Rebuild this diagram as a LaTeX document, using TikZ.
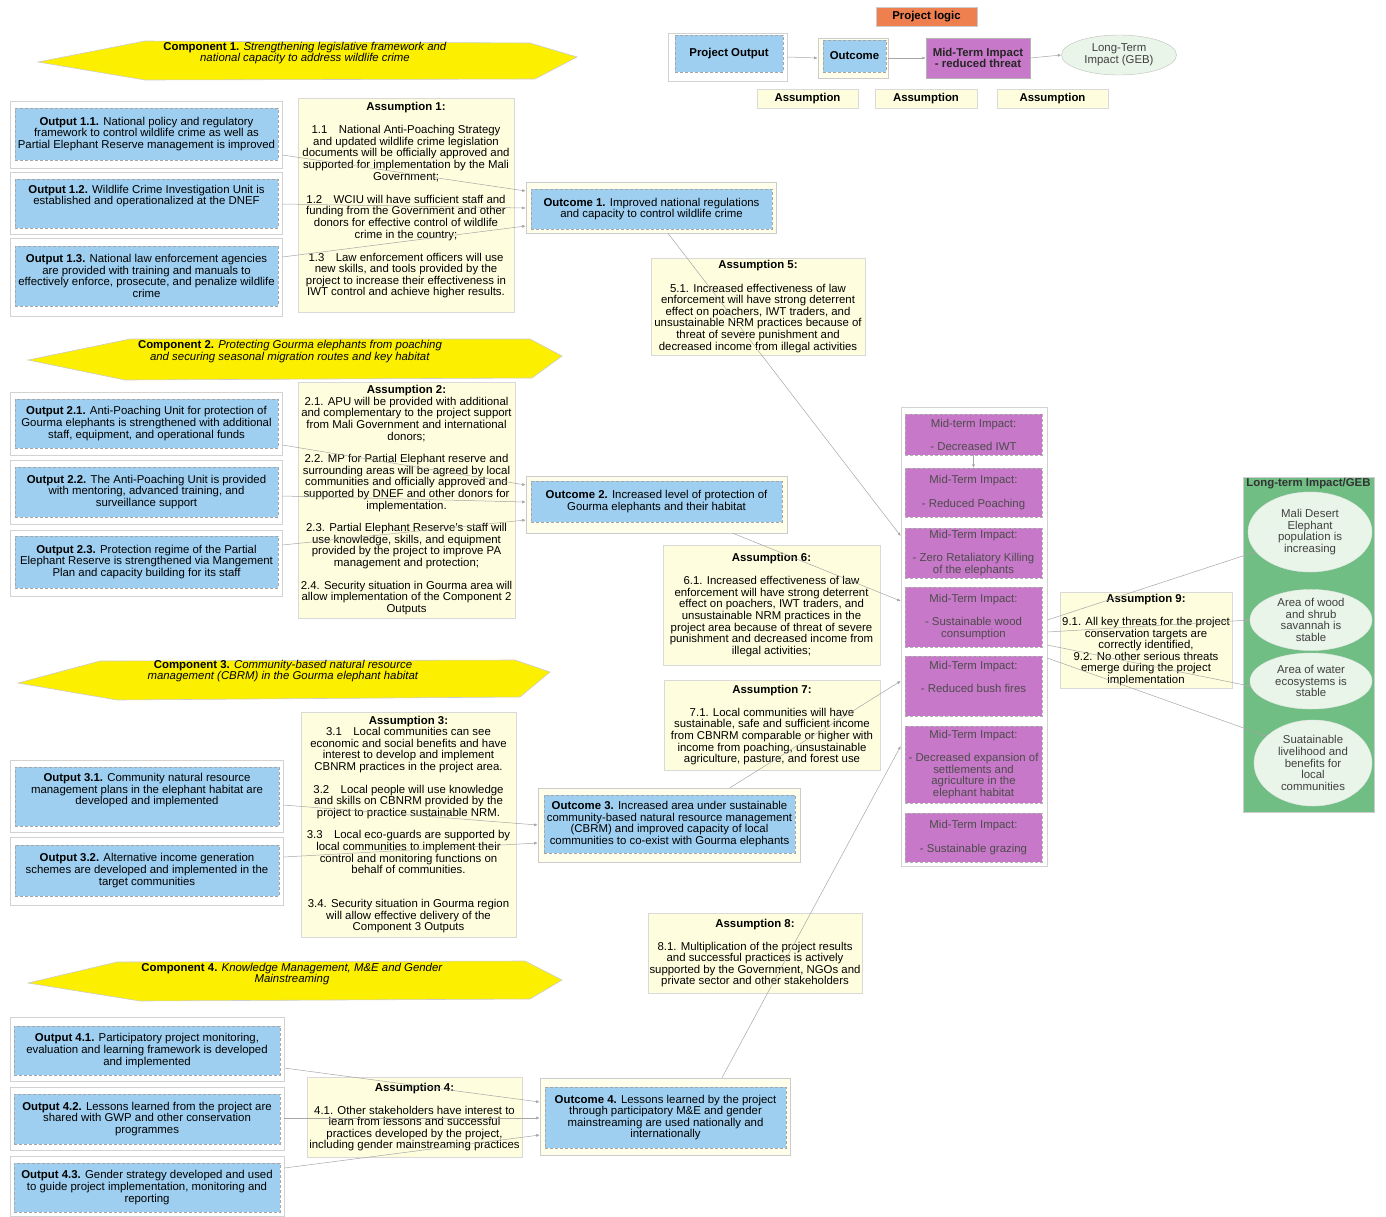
\documentclass[tikz,border=0pt]{standalone}
\usepackage{fontspec}
\setmainfont{Liberation Sans}
\usetikzlibrary{shapes.geometric,arrows.meta}

\definecolor{outblue}{RGB}{158,207,240}
\definecolor{assyellow}{RGB}{254,254,222}
\definecolor{compyellow}{RGB}{252,240,0}
\definecolor{midpurple}{RGB}{200,120,200}
\definecolor{ltgreen}{RGB}{112,190,132}
\definecolor{ltpale}{RGB}{232,245,232}
\definecolor{logicorange}{RGB}{238,128,80}

\begin{document}
\begin{tikzpicture}[x=1pt,y=-1pt,
    every node/.style={font=\fontsize{11.4}{11.6}\selectfont,align=center,inner sep=1pt},
    out_frame/.style={rectangle,draw=gray!35,fill=white,line width=0.6pt},
    out_box/.style={rectangle,draw=gray!70,densely dashed,fill=outblue,line width=0.5pt},
    outc_frame/.style={rectangle,draw=gray!40,fill=assyellow!60,line width=0.6pt},
    assum_node/.style={rectangle,draw=gray!30,fill=assyellow,line width=0.6pt},
    mid_node/.style={rectangle,draw=gray!60,densely dashed,fill=midpurple,text=black!70,line width=0.5pt,minimum width=137pt},
    lt_node/.style={ellipse,draw=white!80!gray,fill=ltpale,inner sep=0pt,text=black!75},
    comp_shape/.style={draw=gray!40,fill=compyellow,line width=0.6pt},
    link/.style={draw=gray!70,line width=0.5pt,-{Latex[length=3.5pt,width=3pt]}}]
\useasboundingbox (0,0) rectangle (1386,1216);

% legend
\node[rectangle,fill=logicorange,draw=gray!40,minimum width=101pt,minimum height=19pt] (logic) at (926.5,16.5) {\textbf{Project logic}};
\node[out_frame,minimum width=119pt,minimum height=48pt] (lgpf) at (727.5,57) {};
\node[out_box,minimum width=108pt,minimum height=37pt] (lgp) at (729,53.5) {\textbf{Project Output}};
\node[outc_frame,minimum width=70pt,minimum height=40pt] (lgof) at (853,58) {};
\node[out_box,minimum width=63pt,minimum height=32pt] (lgo) at (854.5,56) {\textbf{Outcome}};
\node[mid_node,minimum width=104pt,minimum height=40pt,text=black!85,solid] (lgm) at (978,58) {\textbf{Mid-Term Impact}\\\textbf{- reduced threat}};
\node[lt_node,draw=gray!50,minimum width=115pt,minimum height=40pt] (lgl) at (1119,55) {Long-Term\\Impact (GEB)};
\node[assum_node,minimum width=101pt,minimum height=19pt] (lga1) at (807.5,98.5) {\textbf{Assumption}};
\node[assum_node,minimum width=102pt,minimum height=19pt] (lga2) at (926,98.5) {\textbf{Assumption}};
\node[assum_node,minimum width=111pt,minimum height=19pt] (lga3) at (1052.5,98.5) {\textbf{Assumption}};

% component 1
\draw[comp_shape] (38,62) -- (145,41) -- (530,43) -- (577,57) -- (535,79) -- (145,80) -- cycle;
\node (comp1) at (305,53) {\textbf{Component 1.} \textit{Strengthening legislative framework and}\\\textit{national capacity to address wildlife crime}};
\node[out_frame,minimum width=272pt,minimum height=67pt] (o11f) at (146,134.5) {};
\node[out_box,minimum width=263pt,minimum height=52pt] (o11) at (146.5,134) {\textbf{Output 1.1.} National policy and regulatory\\framework to control wildlife crime as well as\\Partial Elephant Reserve management is improved};
\node[out_frame,minimum width=272pt,minimum height=62pt] (o12f) at (146,203) {};
\node[out_box,minimum width=263pt,minimum height=49pt] (o12) at (146.5,203.5) {\textbf{Output 1.2.} Wildlife Crime Investigation Unit is\\established and operationalized at the DNEF\\[6pt]~};
\node[out_frame,minimum width=272pt,minimum height=78pt] (o13f) at (146,277) {};
\node[out_box,minimum width=263pt,minimum height=60pt] (o13) at (146.5,276) {\textbf{Output 1.3.} National law enforcement agencies\\are provided with training and manuals to\\effectively enforce, prosecute, and penalize wildlife\\crime};
\node[assum_node,minimum width=216pt,minimum height=214pt] (a1) at (406,205) {\textbf{Assumption 1:}\\[11.5pt]
    1.1\quad National Anti-Poaching Strategy\\and updated wildlife crime legislation\\documents will be officially approved and\\supported for implementation by the Mali\\Government;\\[11.5pt]
    1.2\quad WCIU will have sufficient staff and\\funding from the Government and other\\donors for effective control of wildlife\\crime in the country;\\[11.5pt]
    1.3\quad Law enforcement officers will use\\new skills, and tools provided by the\\project to increase their effectiveness in\\IWT control and achieve higher results.\\~};
\node[outc_frame,minimum width=250pt,minimum height=51pt] (oc1f) at (651,207.5) {};
\node[out_box,minimum width=241pt,minimum height=40pt] (oc1) at (651.5,209) {\textbf{Outcome 1.} Improved national regulations\\and capacity to control wildlife crime};
\node[assum_node,minimum width=214pt,minimum height=97pt] (a5) at (758,306.5) {\textbf{Assumption 5:}\\[11.5pt]
    5.1. Increased effectiveness of law\\enforcement will have strong deterrent\\effect on poachers, IWT traders, and\\unsustainable NRM practices because of\\threat of severe punishment and\\decreased income from illegal activities};

% component 2
\draw[comp_shape] (28,360) -- (130,339) -- (530,339) -- (562,356) -- (532,378) -- (125,380) -- cycle;
\node (comp2) at (290,351.5) {\textbf{Component 2.} \textit{Protecting Gourma elephants from poaching}\\\textit{and securing seasonal migration routes and key habitat}};
\node[out_frame,minimum width=272pt,minimum height=63pt] (o21f) at (146,423.5) {};
\node[out_box,minimum width=263pt,minimum height=49pt] (o21) at (146.5,423.5) {\textbf{Output 2.1.} Anti-Poaching Unit for protection of\\Gourma elephants is strengthened with additional\\staff, equipment, and operational funds};
\node[out_frame,minimum width=272pt,minimum height=64pt] (o22f) at (146,492) {};
\node[out_box,minimum width=263pt,minimum height=50pt] (o22) at (146.5,492) {\textbf{Output 2.2.} The Anti-Poaching Unit is provided\\with mentoring, advanced training, and\\surveillance support};
\node[out_frame,minimum width=272pt,minimum height=66pt] (o23f) at (146,563) {};
\node[out_box,minimum width=263pt,minimum height=52pt] (o23) at (146.5,562) {\textbf{Output 2.3.} Protection regime of the Partial\\Elephant Reserve is strengthened via Mangement\\Plan and capacity building for its staff};
\node[assum_node,minimum width=217pt,minimum height=236pt] (a2) at (406.5,500) {\textbf{Assumption 2:}\\
    2.1. APU will be provided with additional\\and complementary to the project support\\from Mali Government and international\\donors;\\[11pt]
    2.2. MP for Partial Elephant reserve and\\surrounding areas will be agreed by local\\communities and officially approved and\\supported by DNEF and other donors for\\implementation.\\[11pt]
    2.3. Partial Elephant Reserve's staff will\\use knowledge, skills, and equipment\\provided by the project to improve PA\\management and protection;\\[11pt]
    2.4. Security situation in Gourma area will\\allow implementation of the Component 2\\Outputs};
\node[outc_frame,minimum width=261pt,minimum height=57pt] (oc2f) at (656.5,504.5) {};
\node[out_box,minimum width=251pt,minimum height=41pt] (oc2) at (656.5,501.5) {\textbf{Outcome 2.} Increased level of protection of\\Gourma elephants and their habitat};
\node[assum_node,minimum width=217pt,minimum height=120pt] (a6) at (771.5,605) {\textbf{Assumption 6:}\\[11.5pt]
    6.1. Increased effectiveness of law\\enforcement will have strong deterrent\\effect on poachers, IWT traders, and\\unsustainable NRM practices in the\\project area because of threat of severe\\punishment and decreased income from\\illegal activities;};

% component 3
\draw[comp_shape] (18,683) -- (100,661) -- (515,660) -- (550,672) -- (520,697) -- (117,700) -- cycle;
\node (comp3) at (283,671) {\textbf{Component 3.} \textit{Community-based natural resource}\\\textit{management (CBRM) in the Gourma elephant habitat}};
\node[out_frame,minimum width=273pt,minimum height=72pt] (o31f) at (146.5,796) {};
\node[out_box,minimum width=264pt,minimum height=59pt] (o31) at (147,796.5) {\textbf{Output 3.1.} Community natural resource\\management plans in the elephant habitat are\\developed and implemented\\[3pt]~};
\node[out_frame,minimum width=273pt,minimum height=68pt] (o32f) at (146.5,871) {};
\node[out_box,minimum width=264pt,minimum height=51pt] (o32) at (147,870.5) {\textbf{Output 3.2.} Alternative income generation\\schemes are developed and implemented in the\\target communities};
\node[assum_node,minimum width=215pt,minimum height=225pt] (a3) at (408.5,824.5) {\textbf{Assumption 3:}\\
    3.1\quad Local communities can see\\economic and social benefits and have\\interest to develop and implement\\CBNRM practices in the project area.\\[11pt]
    3.2\quad Local people will use knowledge\\and skills on CBNRM provided by the\\project to practice sustainable NRM.\\[11pt]
    3.3\quad Local eco-guards are supported by\\local communities to implement their\\control and monitoring functions on\\behalf of communities.\\[22.5pt]
    3.4. Security situation in Gourma region\\will allow effective delivery of the\\Component 3 Outputs};
\node[assum_node,minimum width=216pt,minimum height=90pt] (a7) at (772,725) {\textbf{Assumption 7:}\\[11.5pt]
    7.1. Local communities will have\\sustainable, safe and sufficient income\\from CBNRM comparable or higher with\\income from poaching, unsustainable\\agriculture, pasture, and forest use};
\node[outc_frame,minimum width=262pt,minimum height=74pt] (oc3f) at (669,825) {};
\node[out_box,minimum width=251pt,minimum height=58pt] (oc3) at (669.5,824) {\textbf{Outcome 3.} Increased area under sustainable\\community-based natural resource management\\(CBRM) and improved capacity of local\\communities to co-exist with Gourma elephants};
\node[assum_node,minimum width=214pt,minimum height=80pt] (a8) at (755,953) {\textbf{Assumption 8:}\\[11.5pt]
    8.1. Multiplication of the project results\\and successful practices is actively\\supported by the Government, NGOs and\\private sector and other stakeholders};

% component 4
\draw[comp_shape] (28,983) -- (117,962) -- (525,961) -- (562,980) -- (530,999) -- (140,1001) -- cycle;
\node (comp4) at (292,974) {\textbf{Component 4.} \textit{Knowledge Management, M\&E and Gender}\\\textit{Mainstreaming}};
\node[out_frame,minimum width=274pt,minimum height=64pt] (o41f) at (147,1049) {};
\node[out_box,minimum width=266pt,minimum height=49pt] (o41) at (147,1050.5) {\textbf{Output 4.1.} Participatory project monitoring,\\evaluation and learning framework is developed\\and implemented};
\node[out_frame,minimum width=274pt,minimum height=63pt] (o42f) at (147,1118.5) {};
\node[out_box,minimum width=266pt,minimum height=50pt] (o42) at (147,1119) {\textbf{Output 4.2.} Lessons learned from the project are\\shared with GWP and other conservation\\programmes};
\node[out_frame,minimum width=274pt,minimum height=60pt] (o43f) at (147,1186) {};
\node[out_box,minimum width=266pt,minimum height=49pt] (o43) at (147,1187.5) {\textbf{Output 4.3.} Gender strategy developed and used\\to guide project implementation, monitoring and\\reporting};
\node[assum_node,minimum width=215pt,minimum height=80pt] (a4) at (414.5,1117) {\textbf{Assumption 4:}\\[11.5pt]
    4.1. Other stakeholders have interest to\\learn from lessons and successful\\practices developed by the project,\\including gender mainstreaming practices};
\node[outc_frame,minimum width=250pt,minimum height=77pt] (oc4f) at (665,1116.5) {};
\node[out_box,minimum width=241pt,minimum height=61pt] (oc4) at (665.5,1117.5) {\textbf{Outcome 4.} Lessons learned by the project\\through participatory M\&E and gender\\mainstreaming are used nationally and\\internationally};

% mid-term impacts
\node[out_frame,minimum width=146pt,minimum height=459pt] (midf) at (974,636.5) {};
\node[mid_node,minimum height=41pt] (m1) at (973.5,434.5) {Mid-term Impact:\\[11.5pt]- Decreased IWT};
\node[mid_node,minimum height=49pt] (m2) at (973.5,492.5) {Mid-Term Impact:\\[11.5pt]- Reduced Poaching};
\node[mid_node,minimum height=50pt] (m3) at (973.5,553) {Mid-Term Impact:\\[11.5pt]- Zero Retaliatory Killing\\of the elephants};
\node[mid_node,minimum height=60pt] (m4) at (973.5,617) {Mid-Term Impact:\\[11.5pt]- Sustainable wood\\consumption};
\node[mid_node,minimum height=60pt] (m5) at (973.5,686) {Mid-Term Impact:\\[11.5pt]- Reduced bush fires\\[6pt]~};
\node[mid_node,minimum height=77pt] (m6) at (973.5,764.5) {Mid-Term Impact:\\[11.5pt]- Decreased expansion of\\settlements and\\agriculture in the\\elephant habitat};
\node[mid_node,minimum height=49pt] (m7) at (973.5,837.5) {Mid-Term Impact:\\[11.5pt]- Sustainable grazing};

% long-term impacts
\node[rectangle,draw=gray!40,fill=ltgreen,minimum width=131pt,minimum height=335pt] (ltf) at (1308.5,644.5) {};
\node[font=\fontsize{11.4}{11.6}\selectfont\bfseries,text=black!80] (ltt) at (1308.5,484) {Long-term Impact/GEB};
\node[lt_node,minimum width=124pt,minimum height=80pt] (e1) at (1310,532) {Mali Desert\\Elephant\\population is\\increasing};
\node[lt_node,minimum width=122pt,minimum height=58pt] (e2) at (1311,620) {Area of wood\\and shrub\\savannah is\\stable};
\node[lt_node,minimum width=122pt,minimum height=56pt] (e3) at (1311,681) {Area of water\\ecosystems is\\stable};
\node[lt_node,minimum width=118pt,minimum height=86pt] (e4) at (1313,763) {Suatainable\\livelihood and\\benefits for\\local\\communities};
\node[assum_node,minimum width=172pt,minimum height=96pt] (a9) at (1146,640) {\textbf{Assumption 9:}\\[11.5pt]
    9.1. All key threats for the project\\conservation targets are\\correctly identified,\\9.2. No other serious threats\\emerge during the project\\implementation};

% connectors
\draw[link] (lgpf.east) -- (lgof.west);
\draw[link] (lgof.east) -- (lgm.west);
\draw[link] (lgm.east) -- (lgl.west);
\draw[link] (o11f.east |- 0,155) -- (oc1f.west |- 0,191);
\draw[link] (o12f.east |- 0,204) -- (oc1f.west |- 0,208);
\draw[link] (o13f.east |- 0,257) -- (oc1f.west |- 0,226);
\draw[link] (o21f.east |- 0,445) -- (oc2f.west |- 0,485);
\draw[link] (o22f.east |- 0,496) -- (oc2f.west |- 0,502);
\draw[link] (o23f.east |- 0,545) -- (oc2f.west |- 0,520);
\draw[link] (o31f.east |- 0,805) -- (oc3f.west |- 0,825);
\draw[link] (o32f.east |- 0,857) -- (oc3f.west |- 0,843);
\draw[link] (o41f.east |- 0,1068) -- (oc4f.west |- 0,1102);
\draw[link] (o42f.east |- 0,1118) -- (oc4f.west |- 0,1118);
\draw[link] (o43f.east |- 0,1168) -- (oc4f.west |- 0,1135);
\draw[link] (oc1f.south -| 668,0) -- (midf.west |- 0,536);
\draw[link] (oc2f.south -| 733,0) -- (midf.west |- 0,601);
\draw[link] (oc3f.north -| 730,0) -- (midf.west |- 0,681);
\draw[link] (oc4f.north -| 722,0) -- (midf.west |- 0,746);
\draw[link] (m1.south) -- (m2.north);
\draw[link] (midf.east |- 0,620) -- (e1.200);
\draw[link] (midf.east |- 0,632) -- (e2.west);
\draw[link] (midf.east |- 0,645) -- (e3.185);
\draw[link] (midf.east |- 0,658) -- (e4.150);
\end{tikzpicture}
\end{document}
